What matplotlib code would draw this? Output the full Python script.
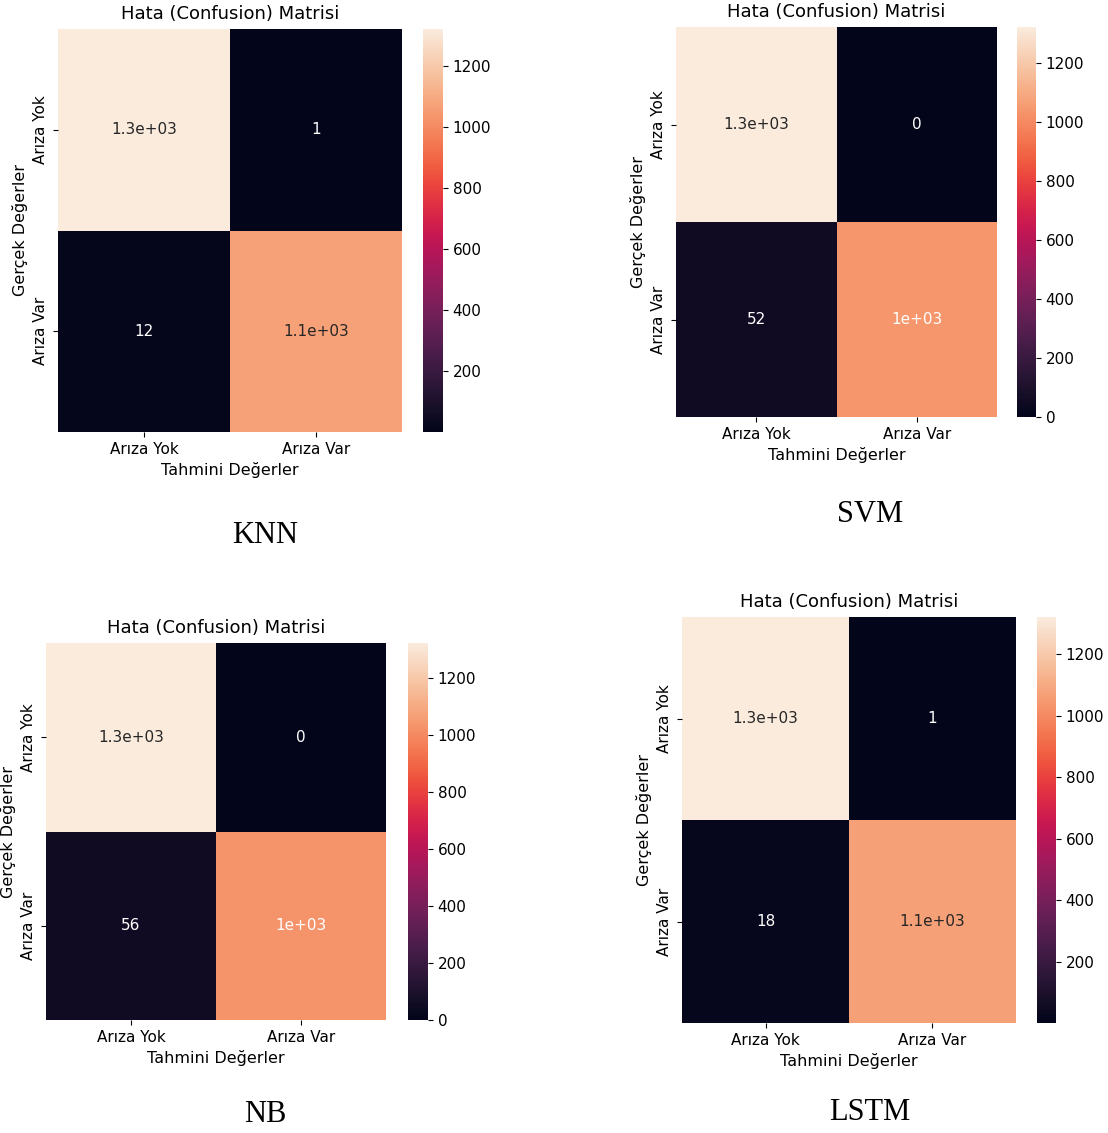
import numpy as np
import matplotlib
matplotlib.use("Agg")
import matplotlib.pyplot as plt
import seaborn as sns

W, H = 1108, 1133

class_labels = ["Arıza Yok", "Arıza Var"]
model_names = ["KNN", "SVM", "NB", "LSTM"]

# confusion matrices (rows: true, cols: predicted)
knn_cm = [[1321, 1], [12, 1073]]
svm_cm = [[1322, 0], [52, 1033]]
nb_cm = [[1322, 0], [56, 1029]]
lstm_cm = [[1321, 1], [18, 1067]]

# pixel boxes: heatmap (x0, y0, x1, y1), colorbar (x0, x1), caption (x, y)
layouts = {
    "KNN": ((58, 29, 402, 432), (423, 443), (265, 535)),
    "SVM": ((676, 27, 997, 417), (1017, 1036), (870, 515)),
    "NB": ((46, 643, 386, 1020), (408, 428), (265, 1115)),
    "LSTM": ((682, 617, 1016, 1023), (1037, 1056), (870, 1113)),
}


def px_axes(fig, x0, y0, x1, y1):
    return fig.add_axes([x0 / W, 1 - y1 / H, (x1 - x0) / W, (y1 - y0) / H])


def draw_cm(fig, cm, name):
    (x0, y0, x1, y1), (cx0, cx1), (tx, ty) = layouts[name]
    ax = px_axes(fig, x0, y0, x1, y1)
    cax = px_axes(fig, cx0, y0, cx1, y1)
    cm = np.array(cm)
    sns.heatmap(cm, annot=True, ax=ax, cbar_ax=cax,
                xticklabels=class_labels, yticklabels=class_labels,
                annot_kws={"fontsize": 11})
    # the source figure used light text on the "1e+03" cells too
    for txt, val in zip(ax.texts, cm.ravel()):
        txt.set_color("#262626" if val >= 1050 else "white")
    ax.set_yticklabels(class_labels, rotation=90, va="center", fontsize=11)
    ax.set_xticklabels(class_labels, rotation=0, fontsize=11)
    ax.set_xlabel("Tahmini Değerler", fontsize=11.5)
    ax.set_ylabel("Gerçek Değerler", fontsize=11.5)
    ax.set_title("Hata (Confusion) Matrisi", fontsize=13, pad=7)
    cax.tick_params(labelsize=11)
    fig.text(tx / W, 1 - ty / H, name, ha="center", va="center",
             family="Liberation Serif", fontsize=22)


fig = plt.figure(figsize=(W / 100, H / 100), dpi=100)
for cm, name in zip([knn_cm, svm_cm, nb_cm, lstm_cm], model_names):
    draw_cm(fig, cm, name)

fig.savefig("out.png", dpi=100)
